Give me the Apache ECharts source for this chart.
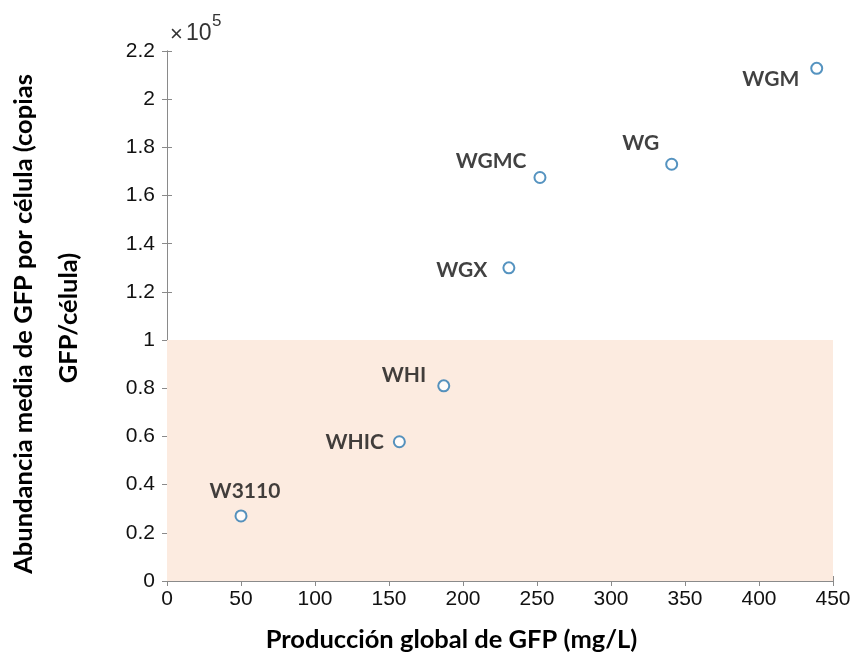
<!DOCTYPE html>
<html><head><meta charset="utf-8">
<script src="https://cdn.jsdelivr.net/npm/echarts@6/dist/echarts.min.js"></script>
<style>html,body{margin:0;padding:0;background:#fff}#c{width:857px;height:655px}</style>
</head><body><div id="c"></div>
<script>
const strains = ['W3110','WHIC','WHI','WGX','WGMC','WG','WGM'];
const production = [50, 157, 187, 231, 252, 341, 439];        // mg/L
const abundance = [27000, 57800, 81000, 130000, 167500, 173000, 212800]; // copies/cell
const xTicks = [0,50,100,150,200,250,300,350,400,450];
const yTicks = [0,0.2,0.4,0.6,0.8,1,1.2,1.4,1.6,1.8,2,2.2];
const shadedLimit = 100000;

// label placement (style only)
const labelPlace = {
  W3110: {position:'top', offset:[4,-3]},
  WHIC: {position:'left', offset:[-4,0]},
  WHI: {position:'left', offset:[-6,-11]},
  WGX: {position:'left', offset:[-10,2]},
  WGMC: {position:'left', offset:[-2,-16]},
  WG: {position:'left', offset:[-1,-21]},
  WGM: {position:'left', offset:[-6,11]}
};

const chart = echarts.init(document.getElementById('c'), null, {renderer:'canvas'});
const tickFont = {fontFamily:'Liberation Sans, Arial, sans-serif', fontSize:21, color:'#111'};
const axisLine = {show:true, lineStyle:{color:'#8a8a8a', width:1}};
const axisTick = {show:true, inside:true, length:5, lineStyle:{color:'#8a8a8a'}};
const titleFont = 'Lato, Open Sans, sans-serif';
const sansFont = 'Liberation Sans, Arial, sans-serif';

chart.setOption({
  animation:false,
  grid:{left:167, right:24, top:51, bottom:74, containLabel:false, outerBoundsMode:'none'},
  xAxis:[{
    type:'value', min:0, max:450, interval:50, position:'bottom',
    axisLine, axisTick, splitLine:{show:false},
    axisLabel:Object.assign({margin:8, formatter:v=>String(xTicks[Math.round(v/50)])}, tickFont),
    name:'Producción global de GFP (mg/L)', nameLocation:'middle', nameGap:46,
    nameTextStyle:{fontFamily:titleFont, fontWeight:'bold', fontSize:25.5, color:'#000', padding:[0,0,0,-97]}
  },{
    type:'value', min:0, max:450, interval:50, position:'top',
    axisLine, axisTick, splitLine:{show:false}, axisLabel:{show:false}
  }],
  yAxis:[{
    type:'value', min:0, max:220000, interval:20000, position:'left',
    axisLine, axisTick, splitLine:{show:false},
    axisLabel:Object.assign({margin:12, formatter:v=>String(yTicks[Math.round(v/20000)])}, tickFont),
  },{
    type:'value', min:0, max:220000, interval:20000, position:'right',
    axisLine, axisTick, splitLine:{show:false}, axisLabel:{show:false}
  }],
  graphic:[
    {type:'text', x:170, y:35, style:{text:'×', fontFamily:sansFont, fontSize:22, fill:'#333', verticalAlign:'middle'}},
    {type:'text', x:186, y:34, style:{text:'10', fontFamily:sansFont, fontSize:23, fill:'#333', verticalAlign:'middle'}},
    {type:'text', x:212, y:21, style:{text:'5', fontFamily:sansFont, fontSize:17, fill:'#333', verticalAlign:'middle'}},
    {type:'text', x:24, y:324, rotation:Math.PI/2, style:{text:'Abundancia media de GFP por célula (copias', fontFamily:titleFont, fontWeight:'bold', fontSize:25.5, fill:'#000', align:'center', verticalAlign:'middle'}},
    {type:'text', x:69, y:318, rotation:Math.PI/2, style:{text:'GFP/célula)', fontFamily:titleFont, fontWeight:'bold', fontSize:25.5, fill:'#000', align:'center', verticalAlign:'middle'}}
  ],
  series:[{
    type:'scatter',
    symbol:'emptyCircle', symbolSize:11,
    itemStyle:{color:'#2b78b0', borderColor:'#2b78b0', borderWidth:1.7},
    data:strains.map((s,i)=>({name:s, value:[production[i], abundance[i]],
      label:Object.assign({show:true, formatter:s, fontFamily:titleFont, fontWeight:'bold', fontSize:21, color:'#111'}, labelPlace[s])})),
    markArea:{silent:true, itemStyle:{color:'#fcebe0'}, data:[[{yAxis:0, xAxis:0},{yAxis:shadedLimit, xAxis:450}]]},
    z:3
  }]
});
</script></body></html>
